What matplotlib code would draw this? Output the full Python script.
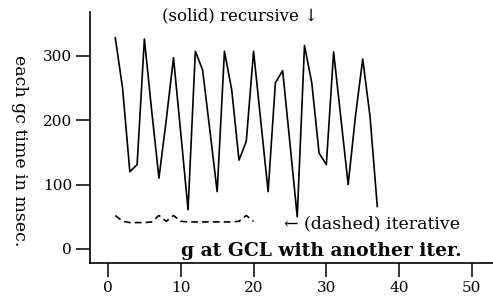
import matplotlib
matplotlib.use("Agg")
import matplotlib.pyplot as plt

# values
gc_index = list(range(1, 38))
recursive_ms = [328, 250, 120, 131, 326, 215, 110, 200, 297, 180,
                61, 307, 278, 184, 89, 307, 247, 138, 167, 307,
                198, 89, 258, 277, 164, 50, 316, 258, 149, 131,
                306, 203, 100, 206, 295, 206, 66]

iter_index = list(range(1, 21))
iterative_ms = [52, 43, 41, 41, 41, 42, 52, 43, 52, 43,
                42, 42, 42, 42, 42, 42, 42, 43, 52, 43]

x_ticks = [0, 10, 20, 30, 40, 50]
y_ticks = [0, 100, 200, 300]

plt.rcParams["font.family"] = ["DejaVu Serif"]

fig = plt.figure(figsize=(4.93, 3.01), dpi=100)
ax = fig.add_axes([0.1826, 0.1262, 0.8174, 0.834])

ax.plot(gc_index, recursive_ms, color="black", linewidth=1.2)
ax.plot(iter_index, iterative_ms, color="black", linewidth=1.2,
        dashes=(4, 2.5))

ax.set_xlim(-2.47, 52.9)
ax.set_ylim(-21.8, 368)
ax.set_xticks(x_ticks)
ax.set_yticks(y_ticks)
ax.tick_params(direction="out", length=10, width=1.1, labelsize=11, pad=3)
for side in ("top", "right"):
    ax.spines[side].set_visible(False)
for side in ("left", "bottom"):
    ax.spines[side].set_linewidth(1.2)

ax.set_ylabel("each gc time in msec.", fontsize=12.5, rotation=-90,
              va="center", ha="center")
ax.yaxis.set_label_coords(-0.174, 0.447)

ax.text(18.1, 362, "(solid) recursive \u2193", fontsize=12,
        ha="center", va="center")
ax.text(24.2, 39, "\u2190 (dashed) iterative", fontsize=12.5,
        ha="left", va="center")
ax.text(10, -3, "g at GCL with another iter.", fontsize=13.5,
        fontweight="bold", ha="left", va="center")

fig.savefig("out.png", dpi=100)
